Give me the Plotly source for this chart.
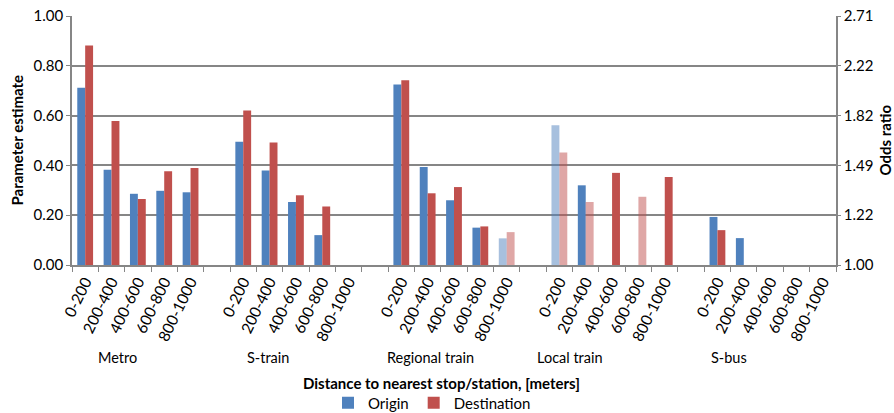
import plotly.graph_objects as go

groups = ["Metro", "S-train", "Regional train", "Local train", "S-bus"]
bins = ["0-200", "200-400", "400-600", "600-800", "800-1000"]

origin = [
    [0.712, 0.383, 0.286, 0.298, 0.292],
    [0.495, 0.380, 0.253, 0.120, None],
    [0.725, 0.394, 0.260, 0.150, 0.107],
    [0.561, 0.320, None, None, None],
    [0.193, 0.108, None, None, None],
]
destination = [
    [0.882, 0.578, 0.265, 0.377, 0.390],
    [0.620, 0.492, 0.280, 0.235, None],
    [0.742, 0.288, 0.313, 0.155, 0.132],
    [0.452, 0.253, 0.370, 0.274, 0.353],
    [0.140, None, None, None, None],
]
# True = significant (solid colour), False = shown faded
origin_sig = [
    [True, True, True, True, True],
    [True, True, True, True, True],
    [True, True, True, True, False],
    [False, True, True, True, True],
    [True, True, True, True, True],
]
destination_sig = [
    [True, True, True, True, True],
    [True, True, True, True, True],
    [True, True, True, True, False],
    [False, False, True, False, True],
    [True, True, True, True, True],
]

left_ticks = [0.0, 0.2, 0.4, 0.6, 0.8, 1.0]
left_ticktext = ["0.00", "0.20", "0.40", "0.60", "0.80", "1.00"]
right_ticktext = ["1.00", "1.22", "1.49", "1.82", "2.22", "2.71"]

BLUE = "rgb(79,129,189)"
BLUE_L = "rgba(79,129,189,0.5)"
RED = "rgb(192,80,77)"
RED_L = "rgba(192,80,77,0.5)"

STEP = len(bins) + 1


def build(vals, sig, c, cl):
    xs, ys, cols = [], [], []
    for g in range(len(groups)):
        for b in range(len(bins)):
            v = vals[g][b]
            if v is None:
                continue
            xs.append(g * STEP + b)
            ys.append(v)
            cols.append(c if sig[g][b] else cl)
    return xs, ys, cols


fig = go.Figure()
ox, oy, oc = build(origin, origin_sig, BLUE, BLUE_L)
dx, dy, dc = build(destination, destination_sig, RED, RED_L)
fig.add_trace(go.Bar(x=ox, y=oy, name="Origin", marker=dict(color=oc, line=dict(width=0))))
fig.add_trace(go.Bar(x=dx, y=dy, name="Destination", marker=dict(color=dc, line=dict(width=0))))
# invisible trace to activate the right axis
fig.add_trace(go.Scatter(x=[0], y=[0], yaxis="y2", mode="markers",
                         marker=dict(opacity=0), showlegend=False, hoverinfo="skip"))

tickvals, ticktext = [], []
for g in range(len(groups)):
    for b in range(len(bins)):
        tickvals.append(g * STEP + b)
        ticktext.append(bins[b])
n_cat = len(groups) * STEP - 1

font = "Lato, 'Noto Sans', sans-serif"
grid = "rgb(134,134,134)"
PW = 764.0  # plot width in px
PH = 249.0  # plot height in px

fig.update_layout(
    width=894, height=413,
    margin=dict(l=72, r=58, t=16, b=148, autoexpand=False),
    plot_bgcolor="white", paper_bgcolor="white",
    barmode="group", bargap=0.4, bargroupgap=0,
    font=dict(family=font, size=14, color="black"),
    xaxis=dict(
        range=[-0.5, n_cat - 0.5], automargin=False,
        tickmode="array", tickvals=tickvals, ticktext=ticktext,
        tickangle=-64, tickfont=dict(size=15.5), ticks="",
        showgrid=False, zeroline=False,
        showline=True, linecolor=grid, linewidth=1.5,
        minor=dict(tickmode="linear", tick0=-0.5, dtick=1, ticks="outside",
                   ticklen=5, tickcolor=grid, tickwidth=1.2, showgrid=False),
    ),
    yaxis=dict(
        range=[0, 1.0], automargin=False,
        tickmode="array", tickvals=left_ticks, ticktext=left_ticktext,
        showgrid=True, gridcolor=grid, gridwidth=1.5, zeroline=False,
        showline=True, linecolor=grid, linewidth=1.5,
        ticks="outside", ticklen=4, tickcolor=grid,
        tickfont=dict(size=15),
    ),
    yaxis2=dict(
        range=[0, 1.0], overlaying="y", side="right", automargin=False,
        tickmode="array", tickvals=left_ticks, ticktext=right_ticktext,
        showgrid=False, zeroline=False,
        showline=True, linecolor=grid, linewidth=1.5,
        ticks="outside", ticklen=3, tickcolor=grid,
        tickfont=dict(size=15),
    ),
    legend=dict(orientation="h", x=(432 - 72) / PW, xanchor="center",
                y=(265 - 403) / PH, yanchor="middle",
                font=dict(size=15), traceorder="normal", itemwidth=30),
    showlegend=True,
)

fig.add_annotation(x=(16 - 72) / PW, xref="paper", y=0.5, yref="paper", textangle=-90,
                   text="<b>Parameter estimate</b>", showarrow=False, font=dict(size=15),
                   xanchor="center", yanchor="middle")
fig.add_annotation(x=(884 - 72) / PW, xref="paper", y=0.5, yref="paper", textangle=-90,
                   text="<b>Odds ratio</b>", showarrow=False, font=dict(size=15),
                   xanchor="center", yanchor="middle")

label_x = [1.21, 6.95, 13.1, 18.4, 24.44]
for g, name in enumerate(groups):
    fig.add_annotation(x=label_x[g], xref="x", y=(265 - 357) / PH, yref="paper", text=name,
                       showarrow=False, font=dict(size=14.5), xanchor="center", yanchor="middle")
fig.add_annotation(x=(441 - 72) / PW, xref="paper", y=(265 - 383) / PH, yref="paper",
                   text="<b>Distance to nearest stop/station, [meters]</b>",
                   showarrow=False, font=dict(size=15), xanchor="center", yanchor="middle")

fig.write_html("out.html", config={"displayModeBar": False},
               post_script="document.body.style.margin='0';")
